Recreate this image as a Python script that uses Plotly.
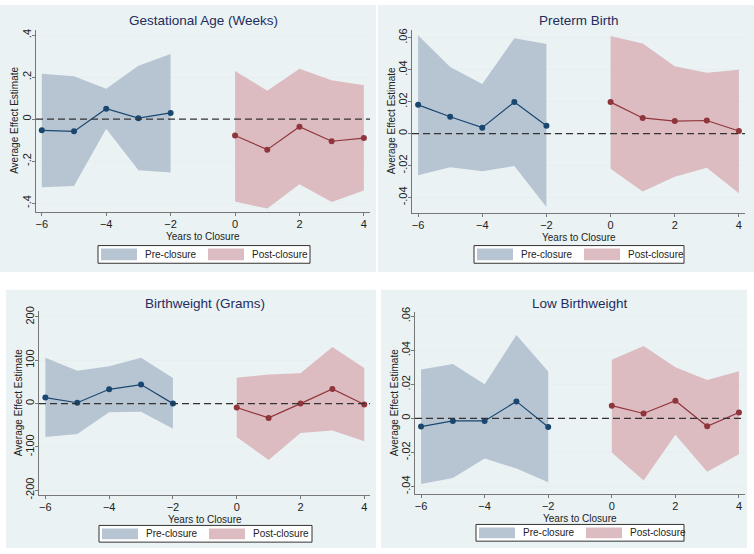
import plotly.graph_objects as go

W, H = 754, 554

# ---------------- data ----------------
pre_years = [-6, -5, -4, -3, -2]
post_years = [0, 1, 2, 3, 4]

ga_pre = [-0.053, -0.058, 0.050, 0.005, 0.030]
ga_pre_hi = [0.217, 0.204, 0.145, 0.254, 0.310]
ga_pre_lo = [-0.324, -0.318, -0.045, -0.243, -0.254]
ga_post = [-0.078, -0.145, -0.036, -0.105, -0.090]
ga_post_hi = [0.229, 0.136, 0.240, 0.186, 0.162]
ga_post_lo = [-0.392, -0.426, -0.310, -0.395, -0.340]

pt_pre = [0.0180, 0.0105, 0.0037, 0.0197, 0.0049]
pt_pre_hi = [0.0615, 0.0416, 0.0310, 0.0596, 0.0560]
pt_pre_lo = [-0.0260, -0.0210, -0.0236, -0.0203, -0.0460]
pt_post = [0.0197, 0.0098, 0.0078, 0.0082, 0.0016]
pt_post_hi = [0.0610, 0.0564, 0.0422, 0.0380, 0.0400]
pt_post_lo = [-0.0220, -0.0363, -0.0270, -0.0213, -0.0373]

bw_pre = [14, 2, 33, 44, 0]
bw_pre_hi = [106, 76, 86, 106, 59]
bw_pre_lo = [-77, -70, -20, -19, -58]
bw_post = [-9, -33, 0, 34, -2]
bw_post_hi = [60, 67, 70, 131, 82]
bw_post_lo = [-77, -130, -68, -62, -87]

lbw_pre = [-0.0048, -0.0015, -0.0015, 0.0100, -0.0050]
lbw_pre_hi = [0.0288, 0.0320, 0.0200, 0.0490, 0.0275]
lbw_pre_lo = [-0.0385, -0.0350, -0.0235, -0.0294, -0.0375]
lbw_post = [0.0075, 0.0029, 0.0104, -0.0046, 0.0035]
lbw_post_hi = [0.0344, 0.0425, 0.0300, 0.0225, 0.0277]
lbw_post_lo = [-0.0200, -0.0365, -0.0096, -0.0313, -0.0210]

titles = ["Gestational Age (Weeks)", "Preterm Birth", "Birthweight (Grams)", "Low Birthweight"]
x_ticks = [-6, -4, -2, 0, 2, 4]
y_ticks = [
    [0.4, 0.2, 0, -0.2, -0.4],
    [0.06, 0.04, 0.02, 0, -0.02, -0.04],
    [200, 100, 0, -100, -200],
    [0.06, 0.04, 0.02, 0, -0.02, -0.04],
]
y_ticklabels = [
    [".4", ".2", "0", "-.2", "-.4"],
    [".06", ".04", ".02", "0", "-.02", "-.04"],
    ["200", "100", "0", "-100", "-200"],
    [".06", ".04", ".02", "0", "-.02", "-.04"],
]
legend_labels = ["Pre-closure", "Post-closure"]
x_title = "Years to Closure"
y_title = "Average Effect Estimate"

series = [
    (ga_pre, ga_pre_hi, ga_pre_lo, ga_post, ga_post_hi, ga_post_lo),
    (pt_pre, pt_pre_hi, pt_pre_lo, pt_post, pt_post_hi, pt_post_lo),
    (bw_pre, bw_pre_hi, bw_pre_lo, bw_post, bw_post_hi, bw_post_lo),
    (lbw_pre, lbw_pre_hi, lbw_pre_lo, lbw_post, lbw_post_hi, lbw_post_lo),
]

# ---------------- layout (pixels) ----------------
panels = [
    dict(bg=(0, 0, 376, 272), plot=(36, 25, 370, 211), xr=[-6.18, 4.19], yr=[-0.443, 0.427],
         title_y=16, leg=(98, 245, 310, 263)),
    dict(bg=(378, 0, 754, 272), plot=(412, 25, 745, 212), xr=[-6.19, 4.19], yr=[-0.0498, 0.0651],
         title_y=16, leg=(474, 245, 684, 263)),
    dict(bg=(6, 290, 376, 553), plot=(39, 312, 370, 499), xr=[-6.2, 4.18], yr=[-211, 213],
         title_y=304, leg=(99, 530, 312, 547)),
    dict(bg=(381, 290, 747, 553), plot=(415, 313, 745, 498), xr=[-6.19, 4.19], yr=[-0.0444, 0.0623],
         title_y=304, leg=(476, 529, 684, 546)),
]

BG = "#eaf2f3"
BLUE_FILL = "#b7c5d3"
RED_FILL = "#dcbcc1"
BLUE_LINE = "#1a476f"
RED_LINE = "#90353b"
FONT = "Liberation Sans, Arial, sans-serif"
TXT = "#222222"
TITLE_C = "#1e2d5e"


def px(x):
    return x / W


def py(y):
    return 1 - y / H


fig = go.Figure()
layout = dict(
    width=W, height=H, margin=dict(l=0, r=0, t=0, b=0),
    paper_bgcolor="white", plot_bgcolor="white", showlegend=False,
    font=dict(family=FONT, size=11, color=TXT),
)
shapes = []
annotations = []

for i, (p, s) in enumerate(zip(panels, series)):
    n = "" if i == 0 else str(i + 1)
    xa, ya = "x" + n, "y" + n
    pre, pre_hi, pre_lo, post, post_hi, post_lo = s
    bx0, by0, bx1, by1 = p["bg"]
    shapes.append(dict(type="rect", xref="paper", yref="paper", x0=px(bx0), x1=px(bx1),
                       y0=py(by1), y1=py(by0), fillcolor=BG, line=dict(width=0), layer="below"))
    x0, y0, x1, y1 = p["plot"]
    layout["xaxis" + n] = dict(
        domain=[px(x0), px(x1)], range=p["xr"], anchor=ya, tickvals=x_ticks,
        ticks="outside", ticklen=3, tickcolor="#777", showline=True, linecolor="#777",
        linewidth=1, showgrid=False, zeroline=False, tickfont=dict(size=11, color=TXT),
        ticklabelstandoff=-1,
    )
    layout["yaxis" + n] = dict(
        domain=[py(y1), py(y0)], range=p["yr"], anchor=xa, tickvals=y_ticks[i],
        ticktext=y_ticklabels[i], tickangle=-90, ticks="outside", ticklen=3, tickcolor="#777",
        showline=True, linecolor="#777", linewidth=1, showgrid=True, gridcolor="#e6eef0",
        gridwidth=1, zeroline=False, tickfont=dict(size=11, color=TXT), ticklabelstandoff=-3,
    )
    # bands
    fig.add_trace(go.Scatter(x=pre_years + pre_years[::-1], y=pre_hi + pre_lo[::-1],
                             fill="toself", fillcolor=BLUE_FILL, line=dict(width=0, color=BLUE_FILL),
                             mode="lines", hoverinfo="skip", xaxis=xa, yaxis=ya))
    fig.add_trace(go.Scatter(x=post_years + post_years[::-1], y=post_hi + post_lo[::-1],
                             fill="toself", fillcolor=RED_FILL, line=dict(width=0, color=RED_FILL),
                             mode="lines", hoverinfo="skip", xaxis=xa, yaxis=ya))
    # zero line
    shapes.append(dict(type="line", xref=xa + " domain", yref=ya, x0=0, x1=1, y0=0, y1=0,
                       line=dict(color="#333333", width=1.2, dash="7px,4px"), layer="above"))
    # estimates
    fig.add_trace(go.Scatter(x=pre_years, y=pre, mode="lines+markers",
                             line=dict(color=BLUE_LINE, width=1.2),
                             marker=dict(color=BLUE_LINE, size=6), xaxis=xa, yaxis=ya))
    fig.add_trace(go.Scatter(x=post_years, y=post, mode="lines+markers",
                             line=dict(color=RED_LINE, width=1.2),
                             marker=dict(color=RED_LINE, size=6), xaxis=xa, yaxis=ya))
    # title
    annotations.append(dict(text=titles[i], xref="paper", yref="paper", x=px((x0 + x1) / 2),
                            y=py(p["title_y"]), xanchor="center", yanchor="middle", showarrow=False,
                            font=dict(size=13.5, color=TITLE_C)))
    # axis titles
    annotations.append(dict(text=x_title, xref="paper", yref="paper", x=px((x0 + x1) / 2),
                            y=py(y1 + 25), xanchor="center", yanchor="middle", showarrow=False,
                            font=dict(size=10, color=TXT)))
    annotations.append(dict(text=y_title, xref="paper", yref="paper", x=px(x0 - 21),
                            y=py((y0 + y1) / 2), xanchor="center", yanchor="middle", showarrow=False,
                            textangle=-90, font=dict(size=10, color=TXT)))
    # legend box
    lx0, ly0, lx1, ly1 = p["leg"]
    shapes.append(dict(type="rect", xref="paper", yref="paper", x0=px(lx0), x1=px(lx1),
                       y0=py(ly1), y1=py(ly0), fillcolor="white", line=dict(color="#333", width=1)))
    for k, (fc, off) in enumerate([(BLUE_FILL, 3), (RED_FILL, 110)]):
        shapes.append(dict(type="rect", xref="paper", yref="paper", x0=px(lx0 + off),
                           x1=px(lx0 + off + 36), y0=py(ly1 - 3), y1=py(ly0 + 3),
                           fillcolor=fc, line=dict(width=0)))
        annotations.append(dict(text=legend_labels[k], xref="paper", yref="paper",
                                x=px(lx0 + off + 42), y=py((ly0 + ly1) / 2), xanchor="left",
                                yanchor="middle", showarrow=False, font=dict(size=10, color=TXT)))

layout["shapes"] = shapes
layout["annotations"] = annotations
fig.update_layout(**layout)
fig.write_html("out.html", config={"displayModeBar": False},
               post_script="document.body.style.margin='0px';")
